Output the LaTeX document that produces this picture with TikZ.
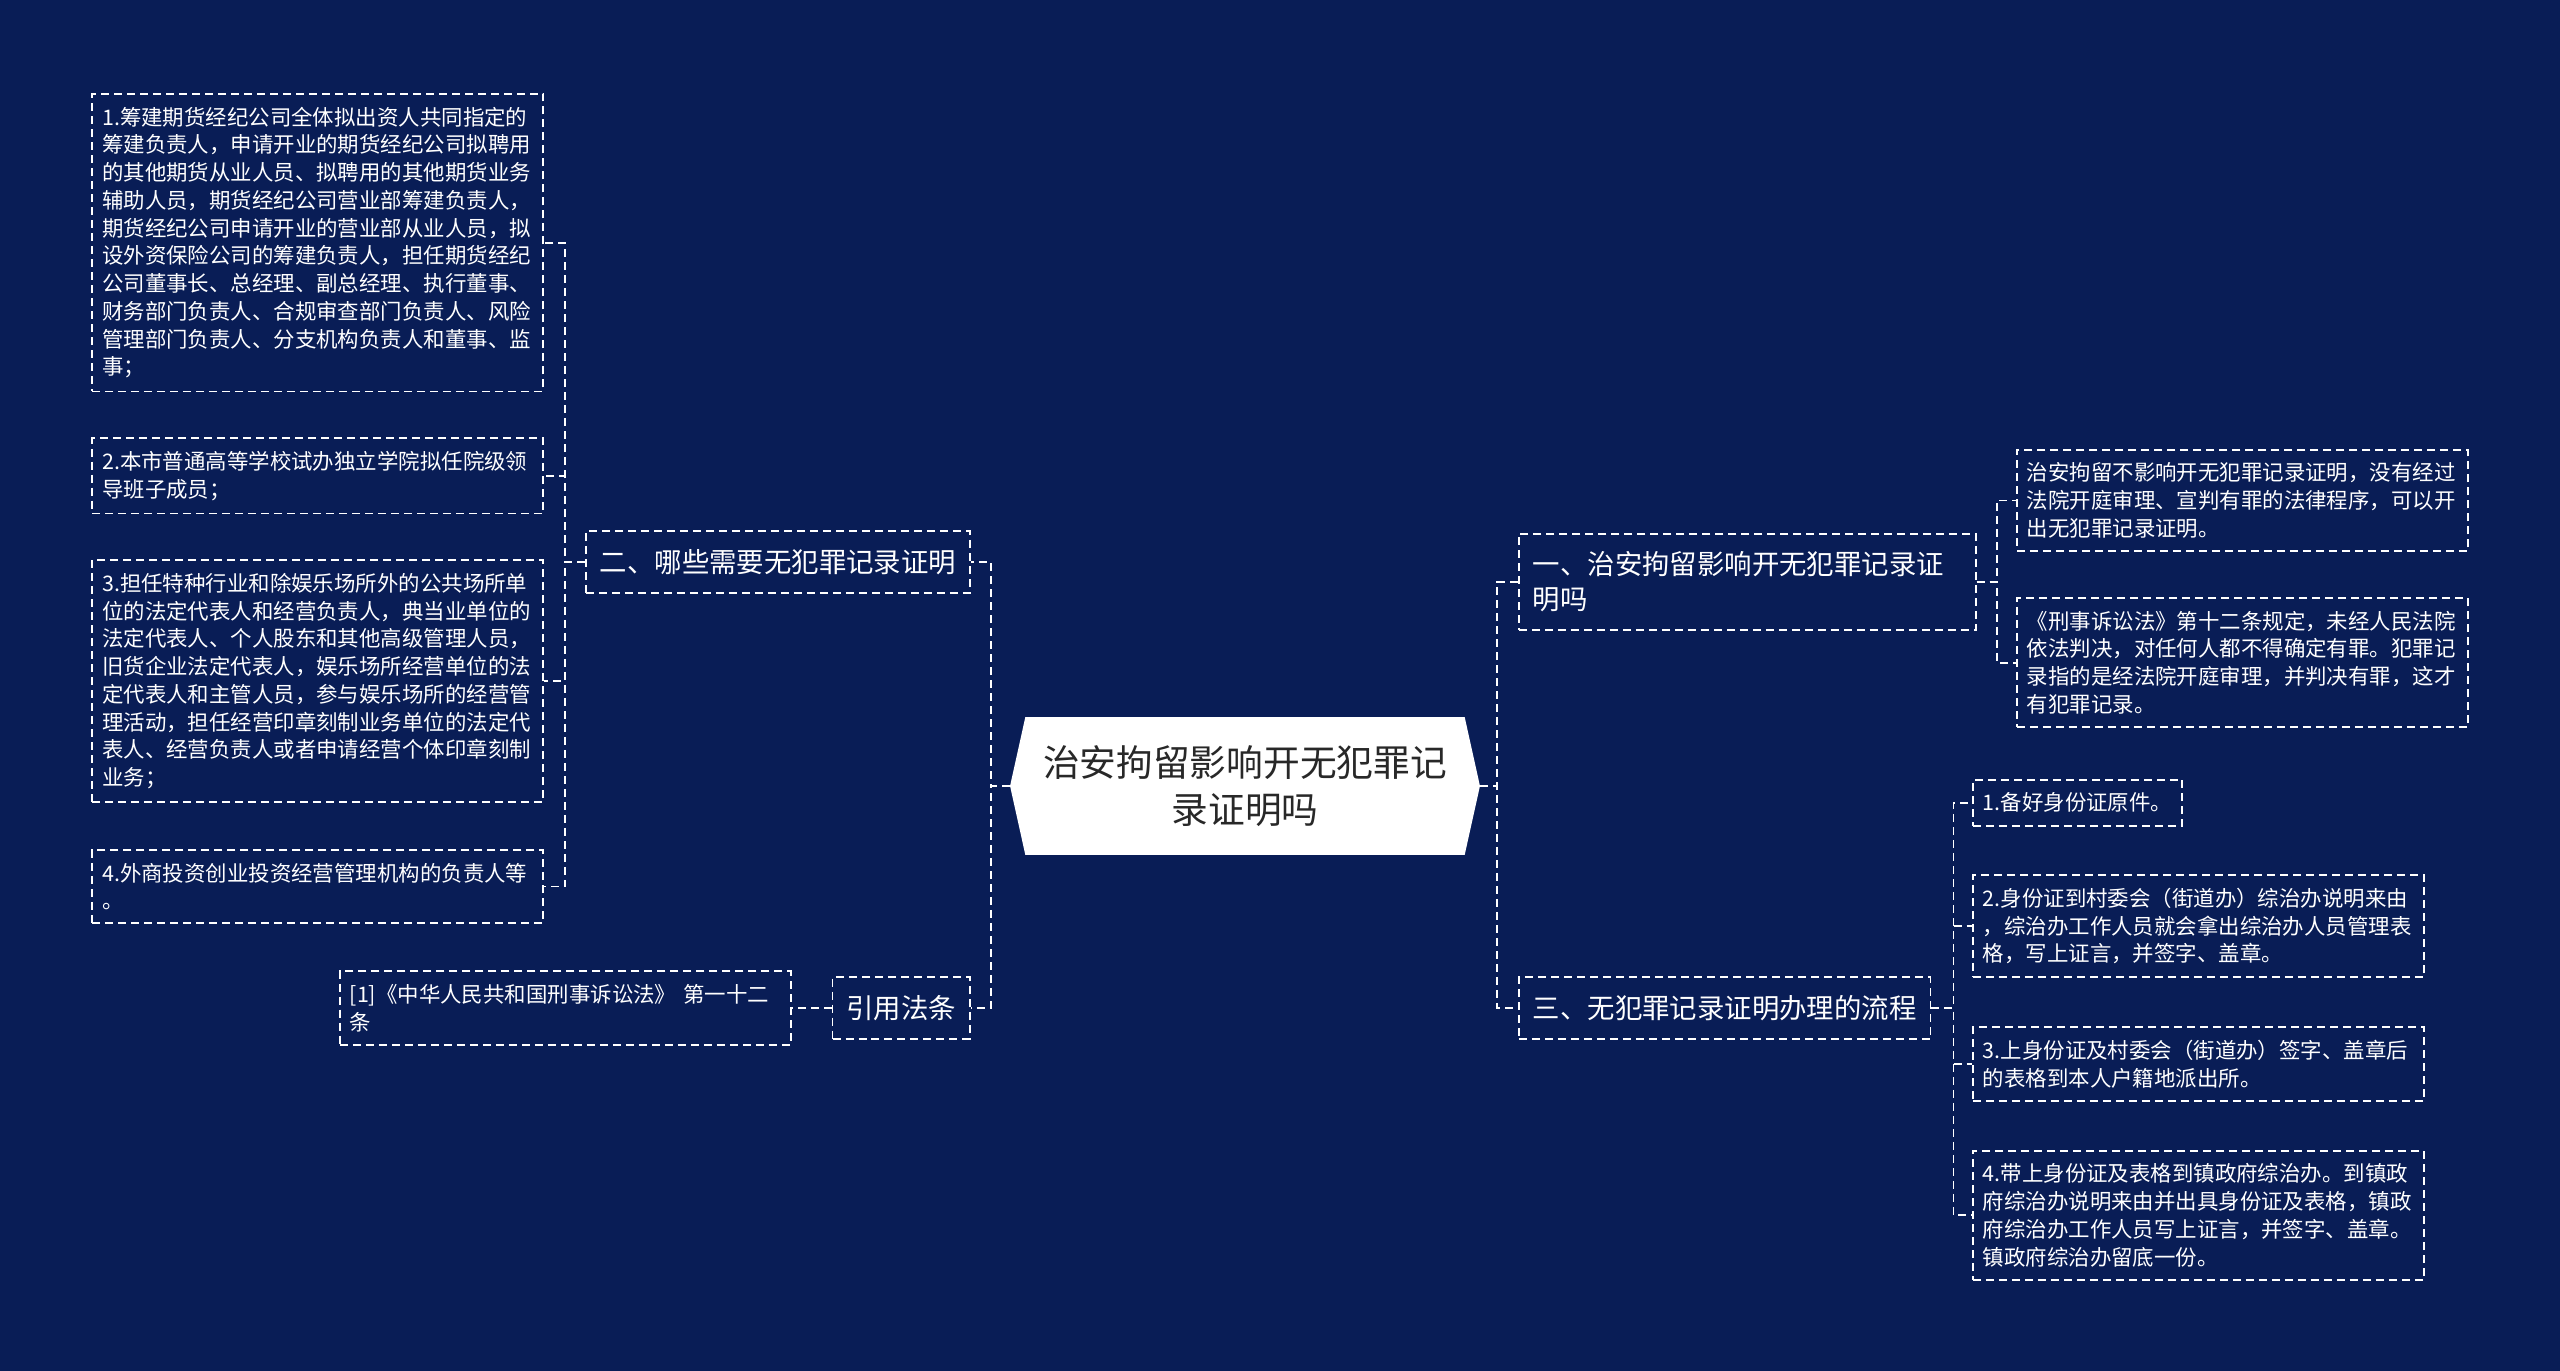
\documentclass[tikz,border=0pt]{standalone}
\usepackage{fontspec}
\setmainfont{Noto Sans CJK SC}
\usetikzlibrary{positioning,shapes.symbols}
\definecolor{deepnavy}{RGB}{9,29,86}
\definecolor{roottext}{RGB}{40,40,40}

\begin{document}
\begin{tikzpicture}[x=0.02cm, y=-0.02cm,
    root/.style={shape=signal, signal to=west and east, signal pointer angle=155,
                 fill=white, minimum width=9.4cm, minimum height=2.76cm, inner sep=0pt,
                 font=\fontsize{20.9pt}{26.7pt}\selectfont, text=roottext, align=center},
    topic/.style={draw=white, line width=0.035cm, dash pattern=on 0.16cm off 0.1cm,
                  inner xsep=0.28cm, inner ysep=0.36cm, text=white,
                  font=\fontsize{15.6pt}{19.9pt}\selectfont, align=left},
    leaf/.style={draw=white, line width=0.035cm, dash pattern=on 0.16cm off 0.1cm,
                 inner xsep=0.2cm, inner ysep=0.26cm, text=white,
                 font=\fontsize{12.2pt}{15.8pt}\selectfont, align=left},
    wide/.style={leaf, text width=8.62cm},
    link/.style={draw=white, line width=0.035cm, dash pattern=on 0.16cm off 0.1cm}
  ]
    \fill[deepnavy] (0,0) rectangle (2560,1371);

    \node[root] (root) at (1245,786) {治安拘留影响开无犯罪记\\录证明吗};
    \node[topic, anchor=east] (q2) at (971,562) {二、哪些需要无犯罪记录证明};
    \node[topic, anchor=east] (law) at (971,1008) {引用法条};
    \node[topic, anchor=west, text width=8.58cm] (q1) at (1518,582) {一、治安拘留影响开无犯罪记录证\\明吗};
    \node[topic, anchor=west] (q3) at (1518,1008) {三、无犯罪记录证明办理的流程};

    \node[wide, anchor=north east] (l1) at (544,93) {1.筹建期货经纪公司全体拟出资人共同指定的\\筹建负责人，申请开业的期货经纪公司拟聘用\\的其他期货从业人员、拟聘用的其他期货业务\\辅助人员，期货经纪公司营业部筹建负责人，\\期货经纪公司申请开业的营业部从业人员，拟\\设外资保险公司的筹建负责人，担任期货经纪\\公司董事长、总经理、副总经理、执行董事、\\财务部门负责人、合规审查部门负责人、风险\\管理部门负责人、分支机构负责人和董事、监\\事；};
    \node[wide, below=0.9cm of l1] (l2) {2.本市普通高等学校试办独立学院拟任院级领\\导班子成员；};
    \node[wide, below=0.9cm of l2] (l3) {3.担任特种行业和除娱乐场所外的公共场所单\\位的法定代表人和经营负责人，典当业单位的\\法定代表人、个人股东和其他高级管理人员，\\旧货企业法定代表人，娱乐场所经营单位的法\\定代表人和主管人员，参与娱乐场所的经营管\\理活动，担任经营印章刻制业务单位的法定代\\表人、经营负责人或者申请经营个体印章刻制\\业务；};
    \node[wide, below=0.92cm of l3] (l4) {4.外商投资创业投资经营管理机构的负责人等\\。};
    \node[wide, left=0.8cm of law] (cite) {[1]《中华人民共和国刑事诉讼法》 第一十二\\条};

    \node[wide, anchor=north west] (r1) at (2016,449) {治安拘留不影响开无犯罪记录证明，没有经过\\法院开庭审理、宣判有罪的法律程序，可以开\\出无犯罪记录证明。};
    \node[wide, below=0.9cm of r1] (r2) {《刑事诉讼法》第十二条规定，未经人民法院\\依法判决，对任何人都不得确定有罪。犯罪记\\录指的是经法院开庭审理，并判决有罪，这才\\有犯罪记录。};

    \node[leaf, anchor=north west] (s1) at (1972,779) {1.备好身份证原件。};
    \node[wide, below=0.95cm of s1.south west, anchor=north west] (s2) {2.身份证到村委会（街道办）综治办说明来由\\，综治办工作人员就会拿出综治办人员管理表\\格，写上证言，并签字、盖章。};
    \node[wide, below=0.96cm of s2] (s3) {3.上身份证及村委会（街道办）签字、盖章后\\的表格到本人户籍地派出所。};
    \node[wide, below=0.96cm of s3] (s4) {4.带上身份证及表格到镇政府综治办。到镇政\\府综治办说明来由并出具身份证及表格，镇政\\府综治办工作人员写上证言，并签字、盖章。\\镇政府综治办留底一份。};

    \foreach \n in {q2,law}
      \draw[link] (root.west) -- ++(-19,0) |- (\n.east);
    \foreach \n in {q1,q3}
      \draw[link] (root.east) -- ++(17,0) |- (\n.west);
    \foreach \n in {l1,l2,l3,l4}
      \draw[link] (q2.west) -- ++(-20,0) |- (\n.east);
    \foreach \n in {r1,r2}
      \draw[link] (q1.east) -- ++(20,0) |- (\n.west);
    \foreach \n in {s1,s2,s3,s4}
      \draw[link] (q3.east) -- ++(22,0) |- (\n.west);
    \draw[link] (law.west) -- (cite.east);
  \end{tikzpicture}
\end{document}
